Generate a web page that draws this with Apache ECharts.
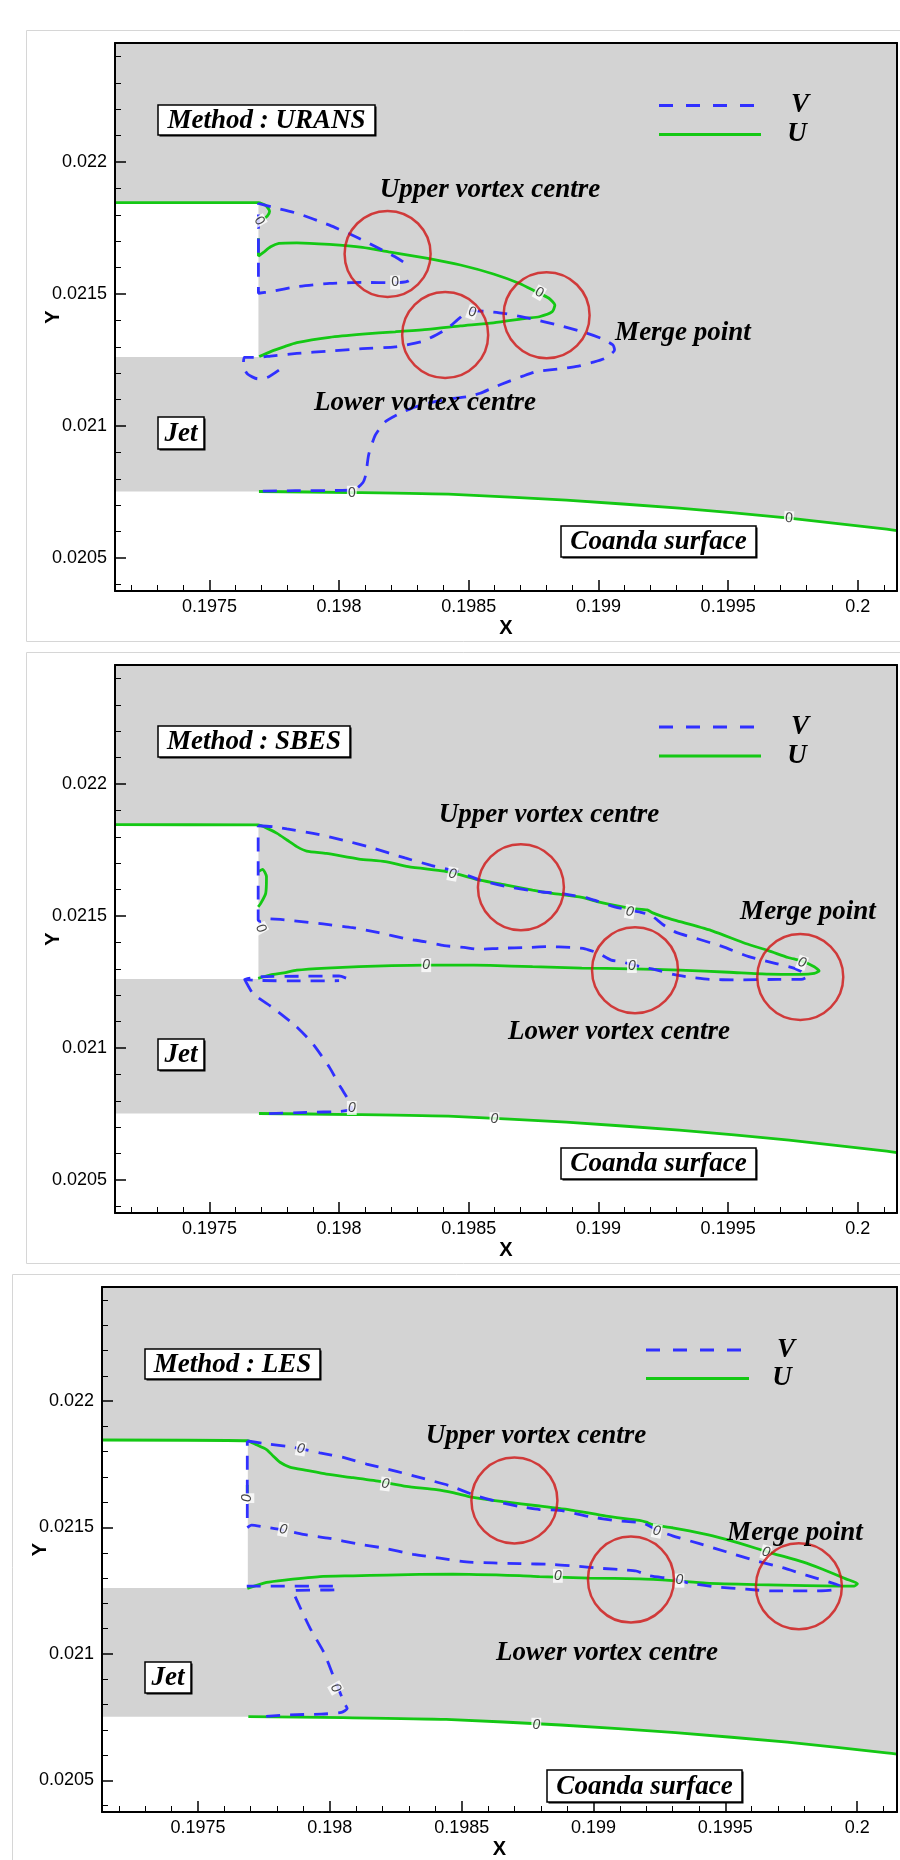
<!DOCTYPE html>
<html>
<head>
<meta charset="utf-8">
<script src="https://cdn.jsdelivr.net/npm/echarts@6/dist/echarts.min.js"></script>
<style>
html,body{margin:0;padding:0;background:#fff;}
#chart{width:900px;height:1860px;}
</style>
</head>
<body>
<div id="chart"></div>
<script>
// ---------- axes ----------
const X_RANGE = [0.197136, 0.200151];
const Y_RANGE = [0.020375, 0.022451];
const X_TICK_LABELS = ['0.1975', '0.198', '0.1985', '0.199', '0.1995', '0.2'];
const Y_TICK_LABELS = ['0.0205', '0.021', '0.0215', '0.022'];

// ---------- shared geometry ----------
const NOZZLE_LIP = [[0.197136, 0.021261], [0.197689, 0.021846]];
const WALL_BELOW = [[0.197136, 0.020752], [0.197691, 0.020752]];
const COANDA_U = [[0.197691,0.020752],[0.198050,0.020748],[0.198441,0.020741],[0.198876,0.020719],[0.199311,0.020689],[0.199735,0.020651],[0.200111,0.020609],[0.200151,0.020604]];

// ---------- URANS ----------
const uransU1 = [[0.197136,0.021846],[0.197689,0.021846],[0.197717,0.021836],[0.197732,0.021814],[0.197723,0.021795],[0.197707,0.021784]];
const uransU2 = [[0.197689,0.021711],[0.197689,0.021644],[0.197711,0.021660],[0.197736,0.021679],[0.197768,0.021692],[0.197837,0.021694],[0.197963,0.021688],[0.198090,0.021677],[0.198191,0.021660],[0.198342,0.021635],[0.198468,0.021610],[0.198595,0.021576],[0.198696,0.021540],[0.198759,0.021509],[0.198809,0.021484],[0.198832,0.021458],[0.198822,0.021433],[0.198772,0.021414],[0.198721,0.021408],[0.198595,0.021391],[0.198468,0.021379],[0.198342,0.021366],[0.198216,0.021357],[0.198090,0.021348],[0.197963,0.021336],[0.197837,0.021316],[0.197787,0.021300],[0.197736,0.021282],[0.197692,0.021263]];
const uransV1 = [[0.198247,0.021622],[0.198216,0.021641],[0.198153,0.021673],[0.198064,0.021717],[0.197963,0.021761],[0.197837,0.021806],[0.197736,0.021831],[0.197689,0.021843],[0.197689,0.021503],[0.197736,0.021509],[0.197837,0.021528],[0.197963,0.021540],[0.198090,0.021544],[0.198216,0.021543],[0.198266,0.021549],[0.198285,0.021566],[0.198292,0.021578]];
const uransV2 = [[0.197768,0.021212],[0.197723,0.021184],[0.197686,0.021179],[0.197648,0.021196],[0.197631,0.021225],[0.197635,0.021260],[0.197689,0.021260],[0.197736,0.021265],[0.197837,0.021275],[0.197963,0.021284],[0.198090,0.021293],[0.198216,0.021300],[0.198317,0.021319],[0.198374,0.021345],[0.198418,0.021370],[0.198456,0.021402],[0.198487,0.021427],[0.198513,0.021437],[0.198582,0.021433],[0.198633,0.021427],[0.198734,0.021408],[0.198841,0.021383],[0.198948,0.021354],[0.199011,0.021332],[0.199056,0.021307],[0.199062,0.021288],[0.199024,0.021256],[0.198973,0.021240],[0.198923,0.021227],[0.198866,0.021218],[0.198759,0.021206],[0.198708,0.021189],[0.198652,0.021168],[0.198595,0.021146],[0.198544,0.021124],[0.198494,0.021111],[0.198443,0.021105],[0.198342,0.021086],[0.198279,0.021067],[0.198235,0.021048],[0.198178,0.021016],[0.198140,0.020966],[0.198114,0.020891],[0.198103,0.020816],[0.198092,0.020786],[0.198060,0.020759],[0.198005,0.020756],[0.197831,0.020755],[0.197701,0.020753]];
const uransCircles = [[0.198187,0.021652],[0.198409,0.021345],[0.198800,0.021420]];
const uransZeros = [[0.197692,0.021777,-60],[0.198216,0.021544,0],[0.198772,0.021505,-30],[0.198513,0.021431,-20],[0.198049,0.020747,0],[0.199734,0.020651,-5]];

// ---------- SBES ----------
const sbesU1 = [[0.197136,0.021846],[0.197688,0.021845],[0.197723,0.021832],[0.197761,0.021813],[0.197799,0.021788],[0.197837,0.021763],[0.197875,0.021746],[0.197951,0.021737],[0.198077,0.021716],[0.198178,0.021706],[0.198266,0.021687],[0.198405,0.021670],[0.198456,0.021659],[0.198544,0.021636],[0.198645,0.021617],[0.198746,0.021598],[0.198822,0.021586],[0.198936,0.021571],[0.198999,0.021554],[0.199125,0.021529],[0.199188,0.021523],[0.199207,0.021513],[0.199251,0.021497],[0.199314,0.021479],[0.199441,0.021443],[0.199567,0.021396],[0.199655,0.021369],[0.199731,0.021343],[0.199782,0.021330],[0.199832,0.021308],[0.199851,0.021292],[0.199832,0.021283],[0.199782,0.021279],[0.199655,0.021280],[0.199504,0.021287],[0.199314,0.021295],[0.199125,0.021300],[0.198936,0.021303],[0.198746,0.021308],[0.198582,0.021313],[0.198456,0.021314],[0.198330,0.021314],[0.198203,0.021312],[0.198077,0.021308],[0.197951,0.021303],[0.197837,0.021295],[0.197787,0.021285],[0.197736,0.021277],[0.197688,0.021264]];
const sbesU2 = [[0.197688,0.021668],[0.197705,0.021677],[0.197720,0.021649],[0.197717,0.021586],[0.197698,0.021548],[0.197688,0.021535]];
const sbesV1 = [[0.197688,0.021842],[0.197749,0.021838],[0.197799,0.021830],[0.197900,0.021813],[0.198014,0.021788],[0.198121,0.021760],[0.198254,0.021720],[0.198355,0.021692],[0.198456,0.021668],[0.198544,0.021636],[0.198658,0.021609],[0.198784,0.021591],[0.198872,0.021583],[0.198961,0.021567],[0.199062,0.021535],[0.199163,0.021514],[0.199201,0.021504],[0.199251,0.021466],[0.199302,0.021437],[0.199378,0.021415],[0.199479,0.021384],[0.199580,0.021346],[0.199681,0.021321],[0.199756,0.021302],[0.199794,0.021283],[0.199804,0.021270],[0.199782,0.021260],[0.199693,0.021260],[0.199529,0.021258],[0.199428,0.021260],[0.199352,0.021268],[0.199289,0.021279],[0.199226,0.021295],[0.199163,0.021308],[0.199087,0.021327],[0.199049,0.021333],[0.198999,0.021359],[0.198948,0.021376],[0.198898,0.021381],[0.198797,0.021384],[0.198734,0.021381],[0.198620,0.021378],[0.198544,0.021374],[0.198481,0.021381],[0.198405,0.021388],[0.198330,0.021403],[0.198254,0.021415],[0.198153,0.021437],[0.198052,0.021456],[0.197938,0.021470],[0.197825,0.021482],[0.197774,0.021487],[0.197723,0.021490],[0.197698,0.021479],[0.197688,0.021485],[0.197688,0.021842]];
const sbesV2 = [[0.198027,0.021265],[0.198000,0.021273],[0.197850,0.021272],[0.197700,0.021270],[0.197636,0.021260],[0.197700,0.021256],[0.197850,0.021254],[0.198000,0.021255]];
const sbesV3 = [[0.197636,0.021260],[0.197669,0.021205],[0.197744,0.021153],[0.197831,0.021085],[0.197897,0.021018],[0.197962,0.020928],[0.198005,0.020853],[0.198038,0.020800],[0.198049,0.020770],[0.198005,0.020760],[0.197875,0.020756],[0.197723,0.020751]];
const sbesCircles = [[0.198701,0.021609],[0.199141,0.021295],[0.199778,0.021269]];
const sbesZeros = [[0.198437,0.021659,-10],[0.197698,0.021453,-60],[0.198336,0.021314,0],[0.199121,0.021516,-10],[0.199129,0.021311,0],[0.199785,0.021323,-20],[0.198049,0.020773,0],[0.198599,0.020730,0]];

// ---------- LES ----------
const lesU1 = [[0.197136,0.021846],[0.197687,0.021843],[0.197722,0.021827],[0.197760,0.021808],[0.197785,0.021783],[0.197811,0.021758],[0.197848,0.021739],[0.197912,0.021726],[0.197987,0.021711],[0.198088,0.021697],[0.198189,0.021682],[0.198290,0.021663],[0.198404,0.021650],[0.198467,0.021638],[0.198543,0.021619],[0.198657,0.021602],[0.198795,0.021585],[0.198922,0.021568],[0.199048,0.021545],[0.199174,0.021528],[0.199200,0.021521],[0.199225,0.021511],[0.199300,0.021499],[0.199427,0.021473],[0.199452,0.021467],[0.199553,0.021438],[0.199679,0.021398],[0.199793,0.021364],[0.199869,0.021335],[0.199957,0.021297],[0.200001,0.021278],[0.199989,0.021268],[0.199932,0.021268],[0.199806,0.021270],[0.199616,0.021274],[0.199427,0.021280],[0.199300,0.021290],[0.199174,0.021297],[0.198985,0.021300],[0.198795,0.021306],[0.198720,0.021310],[0.198467,0.021316],[0.198215,0.021312],[0.198088,0.021309],[0.197962,0.021306],[0.197836,0.021293],[0.197760,0.021283],[0.197687,0.021259]];
const lesU2 = [[0.197687,0.021669],[0.197687,0.021631]];
const lesV1 = [[0.197687,0.021842],[0.197747,0.021833],[0.197836,0.021821],[0.197890,0.021811],[0.197962,0.021795],[0.198051,0.021777],[0.198139,0.021751],[0.198253,0.021722],[0.198354,0.021694],[0.198455,0.021665],[0.198556,0.021625],[0.198644,0.021600],[0.198720,0.021583],[0.198795,0.021571],[0.198871,0.021568],[0.198985,0.021543],[0.199086,0.021527],[0.199187,0.021518],[0.199240,0.021490],[0.199300,0.021467],[0.199402,0.021436],[0.199503,0.021404],[0.199604,0.021372],[0.199717,0.021341],[0.199806,0.021312],[0.199894,0.021284],[0.199938,0.021268],[0.199907,0.021253],[0.199831,0.021249],[0.199679,0.021249],[0.199578,0.021256],[0.199465,0.021265],[0.199364,0.021280],[0.199300,0.021297],[0.199212,0.021309],[0.199162,0.021328],[0.199124,0.021332],[0.199035,0.021338],[0.198934,0.021347],[0.198846,0.021354],[0.198720,0.021357],[0.198619,0.021360],[0.198518,0.021364],[0.198417,0.021379],[0.198316,0.021394],[0.198202,0.021419],[0.198101,0.021436],[0.198000,0.021457],[0.197899,0.021473],[0.197823,0.021490],[0.197747,0.021503],[0.197703,0.021509],[0.197687,0.021499],[0.197687,0.021842]];
const lesV2 = [[0.197685,0.021268],[0.198022,0.021268],[0.198030,0.021261],[0.198022,0.021254],[0.197859,0.021250],[0.197924,0.021104],[0.197978,0.021005],[0.198011,0.020919],[0.198033,0.020862],[0.198055,0.020805],[0.198066,0.020784],[0.198044,0.020769],[0.197968,0.020762],[0.197837,0.020759],[0.197728,0.020751]];
const lesCircles = [[0.198700,0.021607],[0.199142,0.021294],[0.199779,0.021268]];
const lesZeros = [[0.197890,0.021811,-10],[0.198211,0.021672,-8],[0.197687,0.021616,90],[0.197823,0.021492,-10],[0.198865,0.021309,0],[0.199240,0.021486,-10],[0.199326,0.021290,0],[0.199654,0.021402,-15],[0.198022,0.020865,-60],[0.198783,0.020720,0]];

const PANELS = [
  {method: 'Method : URANS', U: [uransU1, uransU2, COANDA_U], V: [uransV1, uransV2], circles: uransCircles, zeros: uransZeros, italicZero: false},
  {method: 'Method : SBES',  U: [sbesU1, sbesU2, COANDA_U],  V: [sbesV1, sbesV2, sbesV3], circles: sbesCircles, zeros: sbesZeros, italicZero: true},
  {method: 'Method : LES',   U: [lesU1, lesU2, COANDA_U],    V: [lesV1, lesV2], circles: lesCircles, zeros: lesZeros, italicZero: true}
];

// ---------- layout (pixels) ----------
const LAYOUT = [
  {grid: {left: 115, top: 43, width: 796, height: 548}, frame: [26.5, 30.5, 890, 611],
   method: [158, 105, 217, 30], jet: [158, 417, 46, 32], coanda: [561, 526, 195, 31],
   upper: [490, 190], lower: [425, 403], merge: [683, 333],
   legV: 105.5, legU: 134.5, legX: [659, 761], letV: 800, letU: 797},
  {grid: {left: 115, top: 665, width: 796, height: 548}, frame: [26.5, 652.5, 890, 611],
   method: [158, 726, 192, 31], jet: [158, 1039, 46, 31], coanda: [561, 1148, 195, 31],
   upper: [549, 815], lower: [619, 1032], merge: [808, 912],
   legV: 727, legU: 756, legX: [659, 761], letV: 800, letU: 797},
  {grid: {left: 102, top: 1287, width: 796, height: 548}, frame: [12.5, 1274.5, 900, 600],
   method: [145, 1349, 175, 30], jet: [145, 1662, 46, 31], coanda: [547, 1770, 195, 32],
   upper: [536, 1436], lower: [607, 1653], merge: [795, 1533],
   legV: 1350, legU: 1378.5, legX: [646, 749], letV: 786, letU: 782}
];

const GREEN = '#14c814';
const BLUE = '#3030ff';
const RED = '#d01414';
const GRAY = '#d3d3d3';
const SERIF = 'italic bold 27px "Liberation Serif", "Times New Roman", serif';
const SANS = '"Liberation Sans", Arial, sans-serif';

function fmt(list) {
  return function (v) {
    const s = String(+(+v).toFixed(5));
    return list.indexOf(s) >= 0 ? s : '';
  };
}

const grids = [], xAxes = [], yAxes = [], series = [], graphics = [];

PANELS.forEach(function (P, pi) {
  const L = LAYOUT[pi];
  grids.push({left: L.grid.left, top: L.grid.top, width: L.grid.width, height: L.grid.height,
    show: true, backgroundColor: GRAY, borderWidth: 0});
  xAxes.push({gridIndex: pi, type: 'value', position: 'bottom', min: X_RANGE[0], max: X_RANGE[1],
    minInterval: 0.0005, maxInterval: 0.0005, splitNumber: 6, z: 10,
    axisLine: {show: true, onZero: false, lineStyle: {color: '#000', width: 2}},
    axisTick: {show: true, inside: true, length: 11, lineStyle: {color: '#000', width: 1.5}},
    minorTick: {show: true, splitNumber: 5, length: 6, lineStyle: {color: '#000', width: 1}},
    axisLabel: {show: true, margin: 7, fontSize: 18, color: '#000', fontFamily: SANS,
      showMinLabel: true, showMaxLabel: true, formatter: fmt(X_TICK_LABELS)},
    splitLine: {show: false}, minorSplitLine: {show: false},
    name: 'X', nameLocation: 'middle', nameGap: 27, nameMoveOverlap: false,
    nameTextStyle: {fontWeight: 'bold', fontSize: 20, color: '#000', fontFamily: SANS}});
  xAxes.push({gridIndex: pi, type: 'value', position: 'top', min: X_RANGE[0], max: X_RANGE[1], z: 10,
    axisLine: {show: true, onZero: false, lineStyle: {color: '#000', width: 2}},
    axisTick: {show: false}, axisLabel: {show: false}, splitLine: {show: false}});
  yAxes.push({gridIndex: pi, type: 'value', position: 'left', min: Y_RANGE[0], max: Y_RANGE[1],
    minInterval: 0.0005, maxInterval: 0.0005, splitNumber: 4, z: 10,
    axisLine: {show: true, onZero: false, lineStyle: {color: '#000', width: 2}},
    axisTick: {show: true, inside: true, length: 11, lineStyle: {color: '#000', width: 1.5}},
    minorTick: {show: true, splitNumber: 5, length: 6, lineStyle: {color: '#000', width: 1}},
    axisLabel: {show: true, margin: 8, fontSize: 18, color: '#000', fontFamily: SANS,
      showMinLabel: true, showMaxLabel: true, formatter: fmt(Y_TICK_LABELS)},
    splitLine: {show: false}, minorSplitLine: {show: false},
    name: 'Y', nameLocation: 'middle', nameGap: 52, nameMoveOverlap: false,
    nameTextStyle: {fontWeight: 'bold', fontSize: 20, color: '#000', fontFamily: SANS}});
  yAxes.push({gridIndex: pi, type: 'value', position: 'right', min: Y_RANGE[0], max: Y_RANGE[1], z: 10,
    axisLine: {show: true, onZero: false, lineStyle: {color: '#000', width: 2}},
    axisTick: {show: false}, axisLabel: {show: false}, splitLine: {show: false}});

  const base = {xAxisIndex: 2 * pi, yAxisIndex: 2 * pi, animation: false, silent: true};
  series.push(Object.assign({}, base, {type: 'line', data: WALL_BELOW.concat(COANDA_U), showSymbol: false, symbol: 'none',
    lineStyle: {width: 0, opacity: 0}, areaStyle: {color: '#ffffff', opacity: 1, origin: 'start'}, z: 1}));
  series.push(Object.assign({}, base, {type: 'custom', z: 1,
    data: [[NOZZLE_LIP[0][0], NOZZLE_LIP[0][1], NOZZLE_LIP[1][0], NOZZLE_LIP[1][1]]],
    encode: {x: [0, 2], y: [1, 3]},
    renderItem: function (params, api) {
      const p0 = api.coord([api.value(0), api.value(1)]);
      const p1 = api.coord([api.value(2), api.value(3)]);
      return {type: 'rect', shape: {x: Math.min(p0[0], p1[0]), y: Math.min(p0[1], p1[1]),
        width: Math.abs(p1[0] - p0[0]), height: Math.abs(p1[1] - p0[1])}, style: {fill: '#ffffff'}};
    }}));
  P.U.forEach(function (line) {
    series.push(Object.assign({}, base, {type: 'line', data: line, showSymbol: false, symbol: 'none', smooth: 0.2,
      lineStyle: {color: GREEN, width: 2.8}, z: 3}));
  });
  P.V.forEach(function (line) {
    series.push(Object.assign({}, base, {type: 'line', data: line, showSymbol: false, symbol: 'none', smooth: 0.2,
      lineStyle: {color: BLUE, width: 2.8, type: [14, 10]}, z: 3}));
  });
  series.push(Object.assign({}, base, {type: 'scatter', z: 4, symbol: 'circle', symbolSize: 0.1,
    itemStyle: {color: 'rgba(0,0,0,0)'},
    data: P.zeros.map(function (z) { return {value: [z[0], z[1]], label: {rotate: z[2]}}; }),
    label: {show: true, position: 'inside', formatter: '0', fontSize: 14, lineHeight: 14,
      fontStyle: P.italicZero ? 'italic' : 'normal', color: '#111', backgroundColor: '#ffffff', padding: [0, 1],
      fontFamily: SANS}}));
  series.push(Object.assign({}, base, {type: 'scatter', z: 5, data: P.circles, symbol: 'circle', symbolSize: 86,
    itemStyle: {color: 'rgba(0,0,0,0)', borderColor: RED, borderWidth: 2.5}}));

  graphics.push({type: 'rect', z: -10, silent: true, shape: {x: L.frame[0], y: L.frame[1], width: L.frame[2], height: L.frame[3]},
    style: {fill: 'none', stroke: '#d6d6d6', lineWidth: 1}});
  [[L.method, P.method], [L.jet, 'Jet'], [L.coanda, 'Coanda surface']].forEach(function (b) {
    const r = b[0];
    graphics.push({type: 'rect', z: 100, silent: true, shape: {x: r[0] + 1.5, y: r[1] + 1.5, width: r[2], height: r[3]},
      style: {fill: '#000', stroke: null}});
    graphics.push({type: 'rect', z: 101, silent: true, shape: {x: r[0], y: r[1], width: r[2], height: r[3]},
      style: {fill: '#fff', stroke: '#000', lineWidth: 1.5}});
    graphics.push({type: 'text', z: 102, silent: true,
      style: {x: r[0] + r[2] / 2, y: r[1] + r[3] / 2 + 1, text: b[1], font: SERIF, fill: '#000', align: 'center', verticalAlign: 'middle'}});
  });
  [[L.upper, 'Upper vortex centre'], [L.lower, 'Lower vortex centre'], [L.merge, 'Merge point']].forEach(function (t) {
    graphics.push({type: 'text', z: 102, silent: true,
      style: {x: t[0][0], y: t[0][1], text: t[1], font: SERIF, fill: '#000', align: 'center', verticalAlign: 'middle'}});
  });
  graphics.push({type: 'line', z: 102, silent: true, shape: {x1: L.legX[0], y1: L.legV, x2: L.legX[1], y2: L.legV},
    style: {stroke: BLUE, lineWidth: 3, lineDash: [14, 13]}});
  graphics.push({type: 'line', z: 102, silent: true, shape: {x1: L.legX[0], y1: L.legU, x2: L.legX[1], y2: L.legU},
    style: {stroke: GREEN, lineWidth: 3}});
  graphics.push({type: 'text', z: 102, silent: true,
    style: {x: L.letV, y: L.legV, text: 'V', font: SERIF, fill: '#000', align: 'center', verticalAlign: 'middle'}});
  graphics.push({type: 'text', z: 102, silent: true,
    style: {x: L.letU, y: L.legU, text: 'U', font: SERIF, fill: '#000', align: 'center', verticalAlign: 'middle'}});
});

const chart = echarts.init(document.getElementById('chart'), null, {renderer: 'canvas'});
chart.setOption({
  animation: false,
  backgroundColor: '#ffffff',
  grid: grids,
  xAxis: xAxes,
  yAxis: yAxes,
  series: series,
  graphic: graphics
});
</script>
</body>
</html>
